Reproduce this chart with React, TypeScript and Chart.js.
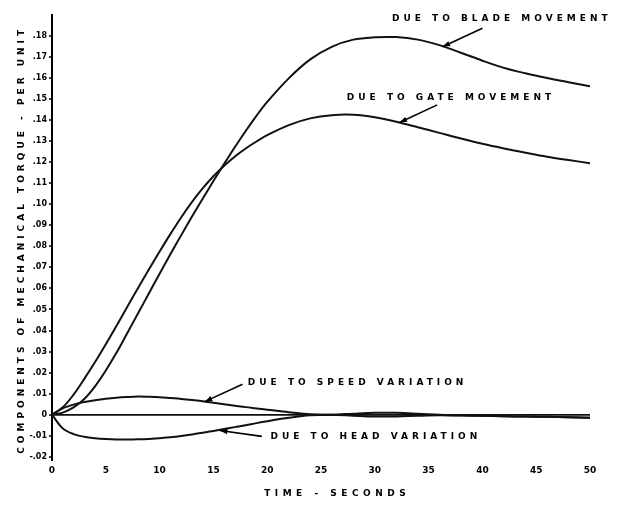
import React, { useEffect, useRef } from "react";
import { Chart, registerables } from "chart.js";

Chart.register(...registerables);

// ---- data ----
const TIME = [0, 1, 2, 3, 4, 5, 6, 7, 8, 9, 10, 11, 12, 13, 14, 15, 16, 17, 18, 19, 20, 22, 24, 26, 28, 30, 32, 34, 36, 38, 40, 42, 44, 46, 48, 50];

const BLADE = [0, 0.001, 0.0035, 0.0075, 0.0135, 0.021, 0.0295, 0.0388, 0.0482, 0.0576, 0.067,
  0.0762, 0.0852, 0.094, 0.1026, 0.111, 0.1192, 0.1272, 0.1348, 0.142, 0.1486,
  0.1598, 0.1688, 0.1748, 0.1782, 0.1793, 0.1794, 0.1782, 0.1756, 0.172, 0.1682, 0.1648, 0.1622, 0.16, 0.158, 0.156];

const GATE = [0, 0.0035, 0.0095, 0.017, 0.025, 0.0335, 0.0423, 0.0513, 0.0602, 0.069, 0.0775,
  0.0858, 0.0937, 0.101, 0.1075, 0.1133, 0.1183, 0.1227, 0.1265, 0.1298, 0.1328,
  0.1376, 0.1408, 0.1423, 0.1425, 0.1413, 0.1392, 0.1366, 0.1339, 0.1312, 0.1287, 0.1265, 0.1245, 0.1226, 0.121, 0.1195];

const SPEED = [0, 0.003, 0.0048, 0.006, 0.0069, 0.0076, 0.0081, 0.0084, 0.0086, 0.0085, 0.0083,
  0.0079, 0.0075, 0.007, 0.0064, 0.0057, 0.005, 0.0043, 0.0036, 0.003, 0.0024,
  0.0012, 0.0002, 0, 0.0005, 0.0009, 0.0009, 0.0005, 0, -0.0003, -0.0005, -0.0007, -0.0009, -0.001, -0.0012, -0.0015];

const HEAD = [0, -0.0065, -0.0092, -0.0105, -0.0112, -0.0116, -0.0118, -0.0118, -0.0117, -0.0115, -0.0112,
  -0.0107, -0.0101, -0.0094, -0.0086, -0.0077, -0.0068, -0.0059, -0.005, -0.004, -0.0031,
  -0.0015, -0.0003, 0, -0.0005, -0.0009, -0.0008, -0.0005, -0.0003, -0.0004, -0.0005, -0.0007, -0.0009, -0.001, -0.0012, -0.0015];

const X_TICKS = [0, 5, 10, 15, 20, 25, 30, 35, 40, 45, 50];
const Y_TICKS = [-0.02, -0.01, 0, 0.01, 0.02, 0.03, 0.04, 0.05, 0.06, 0.07, 0.08, 0.09, 0.1, 0.11, 0.12, 0.13, 0.14, 0.15, 0.16, 0.17, 0.18];
const Y_TICK_LABELS = ["-.02", "-.01", "0", ".01", ".02", ".03", ".04", ".05", ".06", ".07", ".08", ".09", ".10", ".11", ".12", ".13", ".14", ".15", ".16", ".17", ".18"];

const Y_TITLE = "COMPONENTS OF MECHANICAL TORQUE - PER UNIT";
const X_TITLE = "TIME - SECONDS";

const NOTE_TEXTS = ["DUE TO BLADE MOVEMENT", "DUE TO GATE MOVEMENT", "DUE TO SPEED VARIATION", "DUE TO HEAD VARIATION"];
// text anchor (left, middle) and leader line, in data coordinates [time, value]
const NOTE_TEXT_AT = [[31.6, 0.188], [27.4, 0.1505], [18.2, 0.0154], [20.3, -0.0103]];
const NOTE_FROM = [[40, 0.1836], [35.8, 0.1472], [17.7, 0.0145], [19.5, -0.0103]];
const NOTE_TO = [[36.3, 0.1748], [32.3, 0.1388], [14.2, 0.0062], [15.6, -0.0075]];

const FONT = '"DejaVu Sans", sans-serif';

const notesPlugin = {
  id: "notes",
  afterDraw(chart: any) {
    const { ctx, chartArea } = chart;
    const xs = chart.scales.x;
    const ys = chart.scales.y;
    ctx.save();
    ctx.fillStyle = "#000";
    ctx.strokeStyle = "#000";
    ctx.font = `bold 9px ${FONT}`;
    (ctx as any).letterSpacing = "4px";
    ctx.textAlign = "left";
    ctx.textBaseline = "middle";
    NOTE_TEXTS.forEach((t, i) => {
      ctx.fillText(t, xs.getPixelForValue(NOTE_TEXT_AT[i][0]), ys.getPixelForValue(NOTE_TEXT_AT[i][1]));
      const x1 = xs.getPixelForValue(NOTE_FROM[i][0]);
      const y1 = ys.getPixelForValue(NOTE_FROM[i][1]);
      const x2 = xs.getPixelForValue(NOTE_TO[i][0]);
      const y2 = ys.getPixelForValue(NOTE_TO[i][1]);
      ctx.lineWidth = 1.6;
      ctx.beginPath();
      ctx.moveTo(x1, y1);
      ctx.lineTo(x2, y2);
      ctx.stroke();
      const a = Math.atan2(y2 - y1, x2 - x1);
      ctx.beginPath();
      ctx.moveTo(x2, y2);
      ctx.lineTo(x2 - 8 * Math.cos(a - 0.35), y2 - 8 * Math.sin(a - 0.35));
      ctx.lineTo(x2 - 8 * Math.cos(a + 0.35), y2 - 8 * Math.sin(a + 0.35));
      ctx.closePath();
      ctx.fill();
    });

    // axis titles
    ctx.textAlign = "center";
    ctx.save();
    ctx.translate(14, (chartArea.top + chartArea.bottom) / 2 + 2);
    ctx.rotate(-Math.PI / 2);
    ctx.fillText(Y_TITLE, 0, 0);
    ctx.restore();

    (ctx as any).letterSpacing = "4.5px";
    ctx.fillText(X_TITLE, xs.getPixelForValue(26.5), 486);
    (ctx as any).letterSpacing = "0px";
    ctx.restore();
  },
};

export default function App() {
  const ref = useRef<HTMLCanvasElement | null>(null);

  useEffect(() => {
    if (!ref.current) return;
    const mk = (vals: number[]) => TIME.map((t, i) => ({ x: t, y: vals[i] }));
    const line = (label: string, vals: number[]) => ({
      label,
      data: mk(vals),
      borderColor: "#111",
      borderWidth: 2,
      pointRadius: 0,
      fill: false,
      tension: 0.35,
    });

    const chart = new Chart(ref.current, {
      type: "line",
      data: {
        datasets: [
          line("Due to blade movement", BLADE),
          line("Due to gate movement", GATE),
          line("Due to speed variation", SPEED),
          line("Due to head variation", HEAD),
        ],
      },
      options: {
        animation: false,
        responsive: false,
        maintainAspectRatio: false,
        layout: { padding: { left: 0, right: 30, top: 0, bottom: 0 } },
        plugins: {
          legend: { display: false },
          tooltip: { enabled: false },
          title: { display: false },
        },
        scales: {
          x: {
            type: "linear",
            min: 0,
            max: 50,
            afterBuildTicks: (axis: any) => {
              axis.ticks = X_TICKS.map((v) => ({ value: v }));
            },
            afterFit: (axis: any) => {
              axis.height = 37;
            },
            grid: { display: false, drawTicks: false },
            border: { display: false },
            ticks: {
              autoSkip: false,
              maxRotation: 0,
              padding: 4,
              color: "#000",
              font: { family: FONT, size: 9, weight: "bold" },
              callback: (v: any) => String(v),
            },
          },
          y: {
            type: "linear",
            min: -0.022,
            max: 0.19,
            afterBuildTicks: (axis: any) => {
              axis.ticks = Y_TICKS.map((v) => ({ value: v }));
            },
            afterFit: (axis: any) => {
              axis.width = 44;
            },
            grid: {
              drawOnChartArea: true,
              drawTicks: true,
              tickLength: 3,
              tickColor: "#000",
              tickWidth: 1.5,
              color: (c: any) => (c.tick && Math.abs(c.tick.value) < 1e-9 ? "#111" : "rgba(0,0,0,0)"),
              lineWidth: (c: any) => (c.tick && Math.abs(c.tick.value) < 1e-9 ? 1.8 : 0),
            },
            border: { display: true, color: "#000", width: 2 },
            ticks: {
              autoSkip: false,
              padding: 2,
              color: "#000",
              font: { family: FONT, size: 8, weight: "bold" },
              callback: (_v: any, i: number) => Y_TICK_LABELS[i],
            },
          },
        },
      },
      plugins: [notesPlugin],
    });
    return () => chart.destroy();
  }, []);

  return (
    <div style={{ width: 612, height: 490, background: "#fff" }}>
      <canvas ref={ref} width={612} height={490} style={{ display: "block" }} />
    </div>
  );
}
